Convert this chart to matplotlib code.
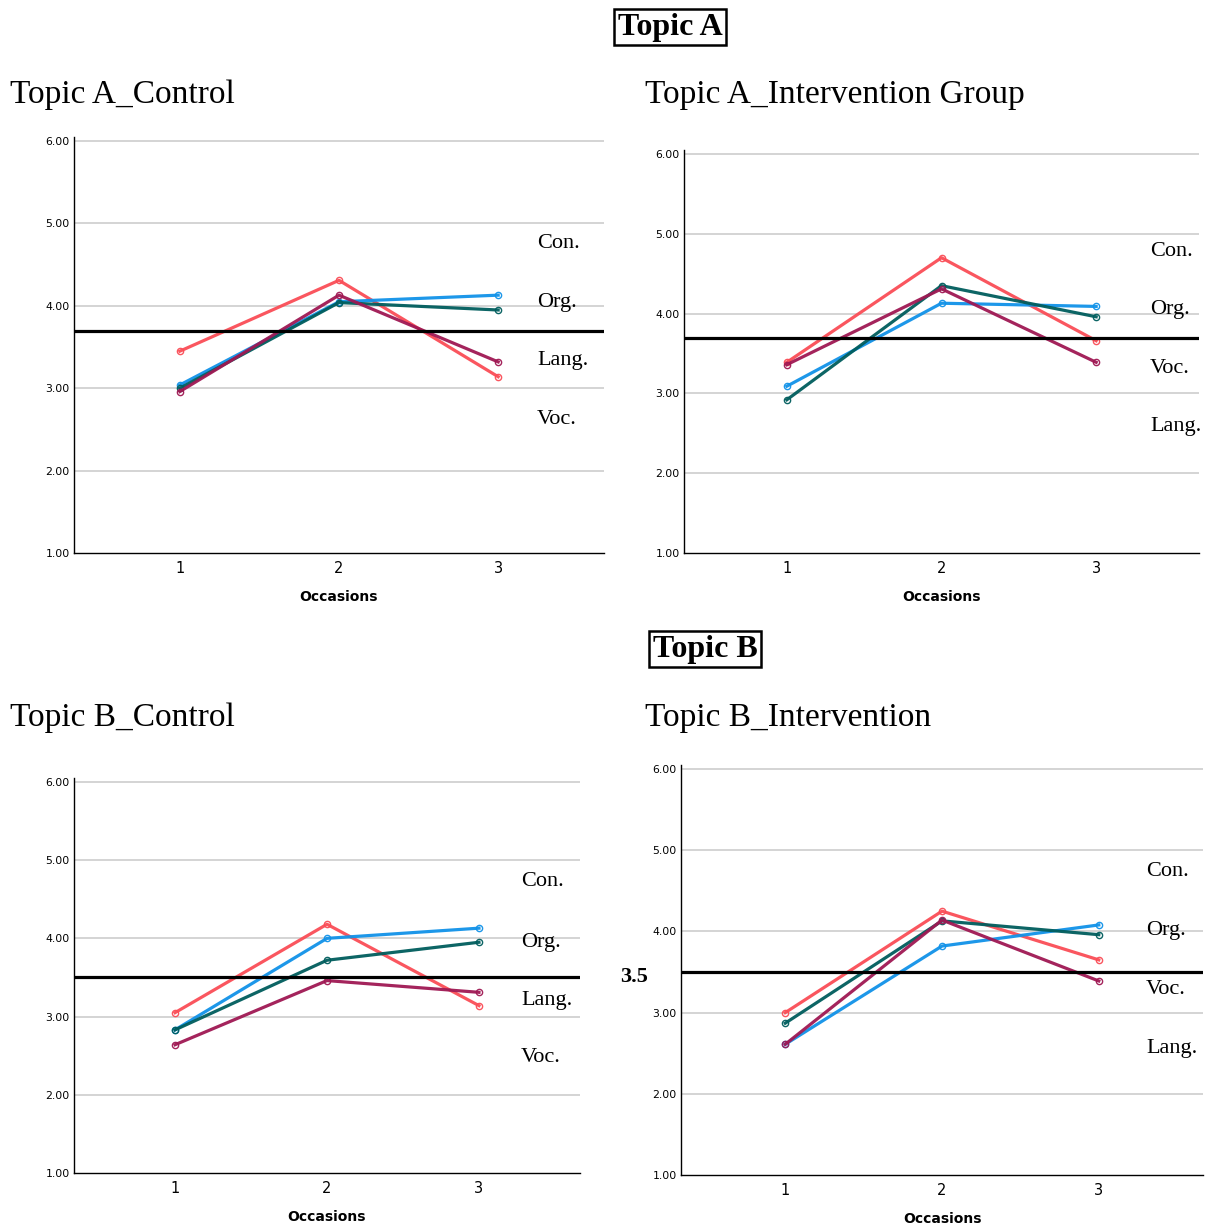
import matplotlib.pyplot as plt
import numpy as np

occasions = [1, 2, 3]

# Topic A control
a_ctrl_red = [3.45, 4.31, 3.14]
a_ctrl_blue = [3.04, 4.05, 4.13]
a_ctrl_teal = [3.00, 4.04, 3.95]
a_ctrl_purple = [2.96, 4.13, 3.32]
a_ctrl_ref = 3.7
a_ctrl_labels = ["Con.", "Org.", "Lang.", "Voc."]

# Topic A intervention
a_int_red = [3.39, 4.70, 3.66]
a_int_blue = [3.09, 4.13, 4.09]
a_int_teal = [2.92, 4.35, 3.96]
a_int_purple = [3.36, 4.31, 3.39]
a_int_ref = 3.7
a_int_labels = ["Con.", "Org.", "Voc.", "Lang."]

# Topic B control
b_ctrl_red = [3.05, 4.18, 3.14]
b_ctrl_blue = [2.83, 4.00, 4.13]
b_ctrl_teal = [2.83, 3.72, 3.95]
b_ctrl_purple = [2.64, 3.46, 3.31]
b_ctrl_ref = 3.5
b_ctrl_labels = ["Con.", "Org.", "Lang.", "Voc."]

# Topic B intervention
b_int_red = [3.00, 4.25, 3.65]
b_int_blue = [2.61, 3.82, 4.08]
b_int_teal = [2.87, 4.13, 3.96]
b_int_purple = [2.61, 4.14, 3.39]
b_int_ref = 3.5
b_int_labels = ["Con.", "Org.", "Voc.", "Lang."]

yticks = [1, 2, 3, 4, 5, 6]

RED = "#FA4D56"
BLUE = "#1192E8"
TEAL = "#005D5D"
PURPLE = "#9F1853"

W, H = 1209, 1225
fig = plt.figure(figsize=(W / 100, H / 100), dpi=100)
serif = "Liberation Serif"


def px(x, y):
    return x / W, 1 - y / H


def panel(rect, series, ref, title, title_xy, labels, label_x, label_ys, ref_label=False):
    ax = fig.add_axes(rect)
    for vals, c in series:
        ax.plot(occasions, vals, color=c, lw=2.3, marker="o", ms=4.5,
                mfc="none", mec=c, mew=1.0, alpha=0.95, zorder=3)
    ax.axhline(ref, color="black", lw=2.3, zorder=4)
    ax.set_ylim(1, 6.05)
    ax.set_xlim(0.335, 3.665)
    ax.set_yticks(yticks)
    ax.set_yticklabels([f"{v:.2f}" for v in yticks], fontsize=7.8)
    ax.set_xticks(occasions)
    ax.set_xticklabels([str(o) for o in occasions], fontsize=10.5)
    ax.tick_params(length=0, pad=3)
    ax.tick_params(axis="x", pad=6)
    for y in yticks[1:]:
        ax.axhline(y, color="#d4d4d4", lw=1.4, zorder=1)
    ax.spines["top"].set_visible(False)
    ax.spines["right"].set_visible(False)
    ax.spines["left"].set_linewidth(1.0)
    ax.spines["bottom"].set_linewidth(1.0)
    ax.set_xlabel("Occasions", fontsize=10, fontweight="bold", labelpad=10)
    fig.text(*px(title_xy[0], title_xy[1] + 2), title, fontsize=24, family=serif,
             va="center", ha="left")
    for lab, ly in zip(labels, label_ys):
        fig.text(*px(label_x, ly), lab, fontsize=16, family=serif, va="center", ha="left")
    if ref_label:
        fig.text(*px(648, 977), "3.5", ha="right", va="center", fontsize=16,
                 fontweight="bold", family=serif)
    return ax


panel([74 / W, 1 - 553 / H, 530 / W, 416 / H],
      [(a_ctrl_red, RED), (a_ctrl_blue, BLUE), (a_ctrl_teal, TEAL), (a_ctrl_purple, PURPLE)],
      a_ctrl_ref, "Topic A_Control", (10, 93), a_ctrl_labels, 537, [244, 302, 361, 420])

panel([684 / W, 1 - 553 / H, 515 / W, 403 / H],
      [(a_int_red, RED), (a_int_blue, BLUE), (a_int_teal, TEAL), (a_int_purple, PURPLE)],
      a_int_ref, "Topic A_Intervention Group", (645, 93), a_int_labels, 1150, [251, 310, 368, 427])

panel([74 / W, 1 - 1173 / H, 506 / W, 395 / H],
      [(b_ctrl_red, RED), (b_ctrl_blue, BLUE), (b_ctrl_teal, TEAL), (b_ctrl_purple, PURPLE)],
      b_ctrl_ref, "Topic B_Control", (10, 716), b_ctrl_labels, 521, [882, 942, 1001, 1058])

panel([681 / W, 1 - 1175 / H, 522 / W, 410 / H],
      [(b_int_red, RED), (b_int_blue, BLUE), (b_int_teal, TEAL), (b_int_purple, PURPLE)],
      b_int_ref, "Topic B_Intervention", (645, 716), b_int_labels, 1146, [871, 931, 989, 1048],
      ref_label=True)

box = dict(boxstyle="square,pad=0.12", fc="white", ec="black", lw=1.8)
fig.text(*px(670, 27), "Topic A", fontsize=23, fontweight="bold", family=serif,
         ha="center", va="center", bbox=box)
fig.text(*px(705, 649), "Topic B", fontsize=23, fontweight="bold", family=serif,
         ha="center", va="center", bbox=box)

fig.savefig("out.png", dpi=100)
